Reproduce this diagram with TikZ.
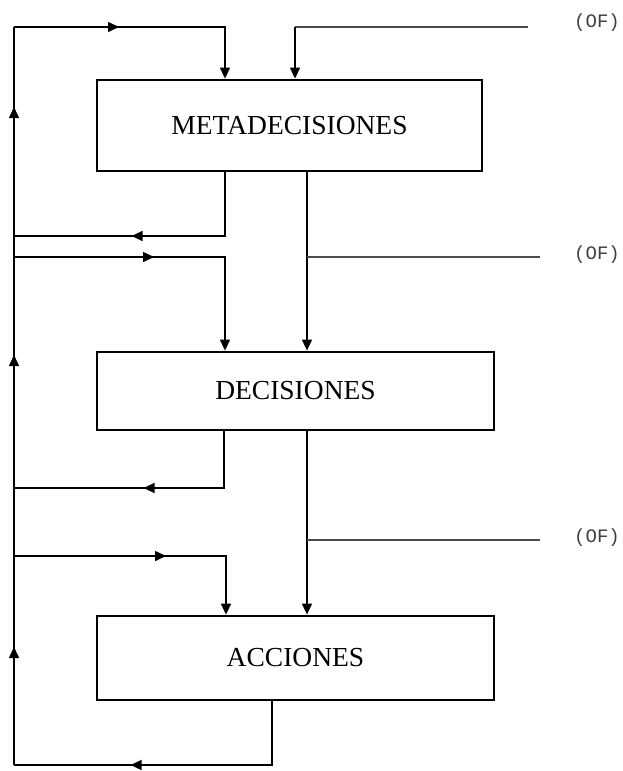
\documentclass[tikz,border=0pt]{standalone}
\usepackage{fontspec}
\setmainfont{Liberation Serif}
\newfontfamily\ofont{Liberation Mono}
\usetikzlibrary{arrows.meta,decorations.markings}
\begin{document}
\begin{tikzpicture}[x=1pt,y=-1pt,
  levelbox/.style={draw, line width=2.8pt, inner sep=0pt,
    font=\fontsize{27.5}{32}\selectfont},
  wire/.style={line width=1.5pt},
  ofwire/.style={line width=1.5pt, draw=black!70},
  tip/.style={-{Triangle[length=11pt,width=10pt]}},
  midtip/.style={postaction={decorate}, decoration={markings,
    mark=at position #1 with {\arrow{Triangle[length=11pt,width=10pt]}}}},
  oflabel/.style={font=\ofont\fontsize{19}{22}\selectfont, text=black!75, inner sep=0pt}]
\useasboundingbox (0,0) rectangle (623,771);

% the three levels
\node[levelbox, minimum width=385pt, minimum height=91pt] (M) at (289.5,125.5) {METADECISIONES};
\node[levelbox, minimum width=397pt, minimum height=78pt] (D) at (295.5,391) {DECISIONES};
\node[levelbox, minimum width=397pt, minimum height=84pt] (A) at (295.5,658) {ACCIONES};

% outside-information labels
\node[oflabel] (of1) at (597,23) {(OF)};
\node[oflabel] (of2) at (597,255) {(OF)};
\node[oflabel] (of3) at (597,538) {(OF)};

% corner points of the feedback loops
\coordinate (railtop) at (14,27);
\coordinate (railbot) at (14,765);
\coordinate (t1) at (225,27);
\coordinate (o1) at (528,27);
\coordinate (o1b) at (295,27);
\coordinate (m1) at (225,236);
\coordinate (m1r) at (14,236);
\coordinate (m2l) at (14,257);
\coordinate (m2) at (225,257);
\coordinate (o2) at (540,257);
\coordinate (o2b) at (307,257);
\coordinate (d1) at (224,488);
\coordinate (d1r) at (14,488);
\coordinate (d2l) at (14,556);
\coordinate (d2) at (226,556);
\coordinate (o3) at (540,540);
\coordinate (o3b) at (307,540);
\coordinate (a1) at (272,765);

% common return rail on the left
\draw[wire, postaction={decorate}, decoration={markings,
    mark=at position 118pt with {\arrow{Triangle[length=11pt,width=10pt]}},
    mark=at position 410pt with {\arrow{Triangle[length=11pt,width=10pt]}},
    mark=at position 658pt with {\arrow{Triangle[length=11pt,width=10pt]}}}]
  (railbot) -- (railtop);

% into METADECISIONES
\draw[wire, tip, midtip=105pt] (railtop) -- (t1) -- (t1 |- M.north);
\draw[ofwire] (o1) -- (o1b);
\draw[wire, tip] (o1b) -- (o1b |- M.north);

% from METADECISIONES
\draw[wire, midtip=157pt] (m1 |- M.south) -- (m1) -- (m1r);
\draw[wire, tip, midtip=140pt] (m2l) -- (m2) -- (m2 |- D.north);
\draw[wire, tip] (o2b |- M.south) -- (o2b |- D.north);
\draw[ofwire] (o2) -- (o2b);

% from DECISIONES
\draw[wire, midtip=137pt] (d1 |- D.south) -- (d1) -- (d1r);
\draw[wire, tip, midtip=152pt] (d2l) -- (d2) -- (d2 |- A.north);
\draw[wire, tip] (o3b |- D.south) -- (o3b |- A.north);
\draw[ofwire] (o3) -- (o3b);

% from ACCIONES
\draw[wire, midtip=205pt] (a1 |- A.south) -- (a1) -- (railbot);
\end{tikzpicture}
\end{document}
